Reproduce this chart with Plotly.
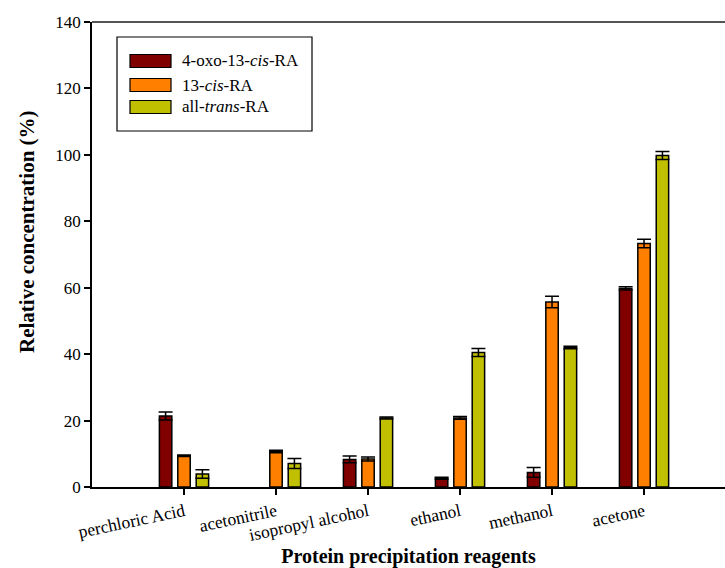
import plotly.graph_objects as go

categories = ["perchloric Acid", "acetonitrile", "isopropyl alcohol", "ethanol", "methanol", "acetone"]
series_names = ["4-oxo-13-<i>cis</i>-RA", "13-<i>cis</i>-RA", "all-<i>trans</i>-RA"]
oxo_values = [21.4, None, 8.3, 2.6, 4.4, 59.8]
oxo_errors = [1.2, None, 1.0, 0.3, 1.5, 0.5]
cis_values = [9.4, 10.7, 8.4, 20.8, 55.7, 73.3]
cis_errors = [0.2, 0.4, 0.6, 0.4, 1.7, 1.3]
trans_values = [3.9, 7.1, 20.8, 40.5, 42.0, 99.8]
trans_errors = [1.3, 1.5, 0.3, 1.2, 0.4, 1.2]
colors = ["#800000", "#FF8000", "#C0C000"]
yticks = [0, 20, 40, 60, 80, 100, 120, 140]

W, H = 725, 568
L, R, T, B = 92, 0, 22, 81
pw, ph = W - L - R, H - T - B

def px(x):
    return (x - L) / pw

def py(y):
    return (H - B - y) / ph

FONT = "'Liberation Serif', 'Times New Roman', Times, serif"

fig = go.Figure()
all_vals = [oxo_values, cis_values, trans_values]
all_errs = [oxo_errors, cis_errors, trans_errors]
for j in range(3):
    xs = [i + (j - 1) * 0.2 for i in range(len(categories))]
    fig.add_trace(go.Bar(
        x=xs, y=all_vals[j], width=0.135, name=series_names[j],
        marker=dict(color=colors[j], line=dict(color="black", width=1.5)),
        error_y=dict(type="data", array=all_errs[j], visible=True,
                     color="black", thickness=1.5, width=7),
        showlegend=False,
    ))

fig.update_layout(
    width=W, height=H,
    margin=dict(l=L, r=R, t=T, b=B),
    paper_bgcolor="white", plot_bgcolor="white",
    font=dict(family=FONT, color="black", size=16),
    xaxis=dict(
        range=[-1.0, 5.88], tickmode="array",
        tickvals=list(range(len(categories))), ticktext=categories,
        tickangle=-12, ticks="outside", ticklen=6, tickwidth=1.5, tickcolor="black",
        showline=True, linecolor="black", linewidth=1.5, showgrid=False, zeroline=False,
        tickfont=dict(family=FONT, size=17.5),
        title=dict(text="<b>Protein precipitation reagents</b>", font=dict(family=FONT, size=20), standoff=8),
    ),
    yaxis=dict(
        range=[0, 140], tickmode="array", tickvals=yticks,
        ticks="outside", ticklen=6, tickwidth=1.5, tickcolor="black",
        showline=True, linecolor="black", linewidth=1.5, showgrid=False, zeroline=False,
        tickfont=dict(family=FONT, size=17),
    ),
)

shapes = [
    dict(type="line", xref="paper", yref="paper", x0=0, x1=1, y0=1, y1=1,
         line=dict(color="#555555", width=2)),
    dict(type="rect", xref="paper", yref="paper", x0=px(117), x1=px(312), y0=py(131), y1=py(37),
         line=dict(color="black", width=1.2), fillcolor="white"),
]
rows = [61, 85, 107]
annotations = [
    dict(xref="paper", yref="paper", x=px(27), y=py(232), text="<b>Relative concentration (%)</b>",
         textangle=-90, showarrow=False, xanchor="center", yanchor="middle",
         font=dict(family=FONT, size=21, color="black")),
]
for j in range(3):
    shapes.append(dict(type="rect", xref="paper", yref="paper",
                       x0=px(130), x1=px(171), y0=py(rows[j] + 6.5), y1=py(rows[j] - 6.5),
                       line=dict(color="black", width=1.2), fillcolor=colors[j]))
    annotations.append(dict(xref="paper", yref="paper", x=px(180), y=py(rows[j]),
                            text=series_names[j], showarrow=False, xanchor="left", yanchor="middle",
                            font=dict(family=FONT, size=17, color="black")))
fig.update_layout(shapes=shapes, annotations=annotations)

fig.write_html("out.html")
